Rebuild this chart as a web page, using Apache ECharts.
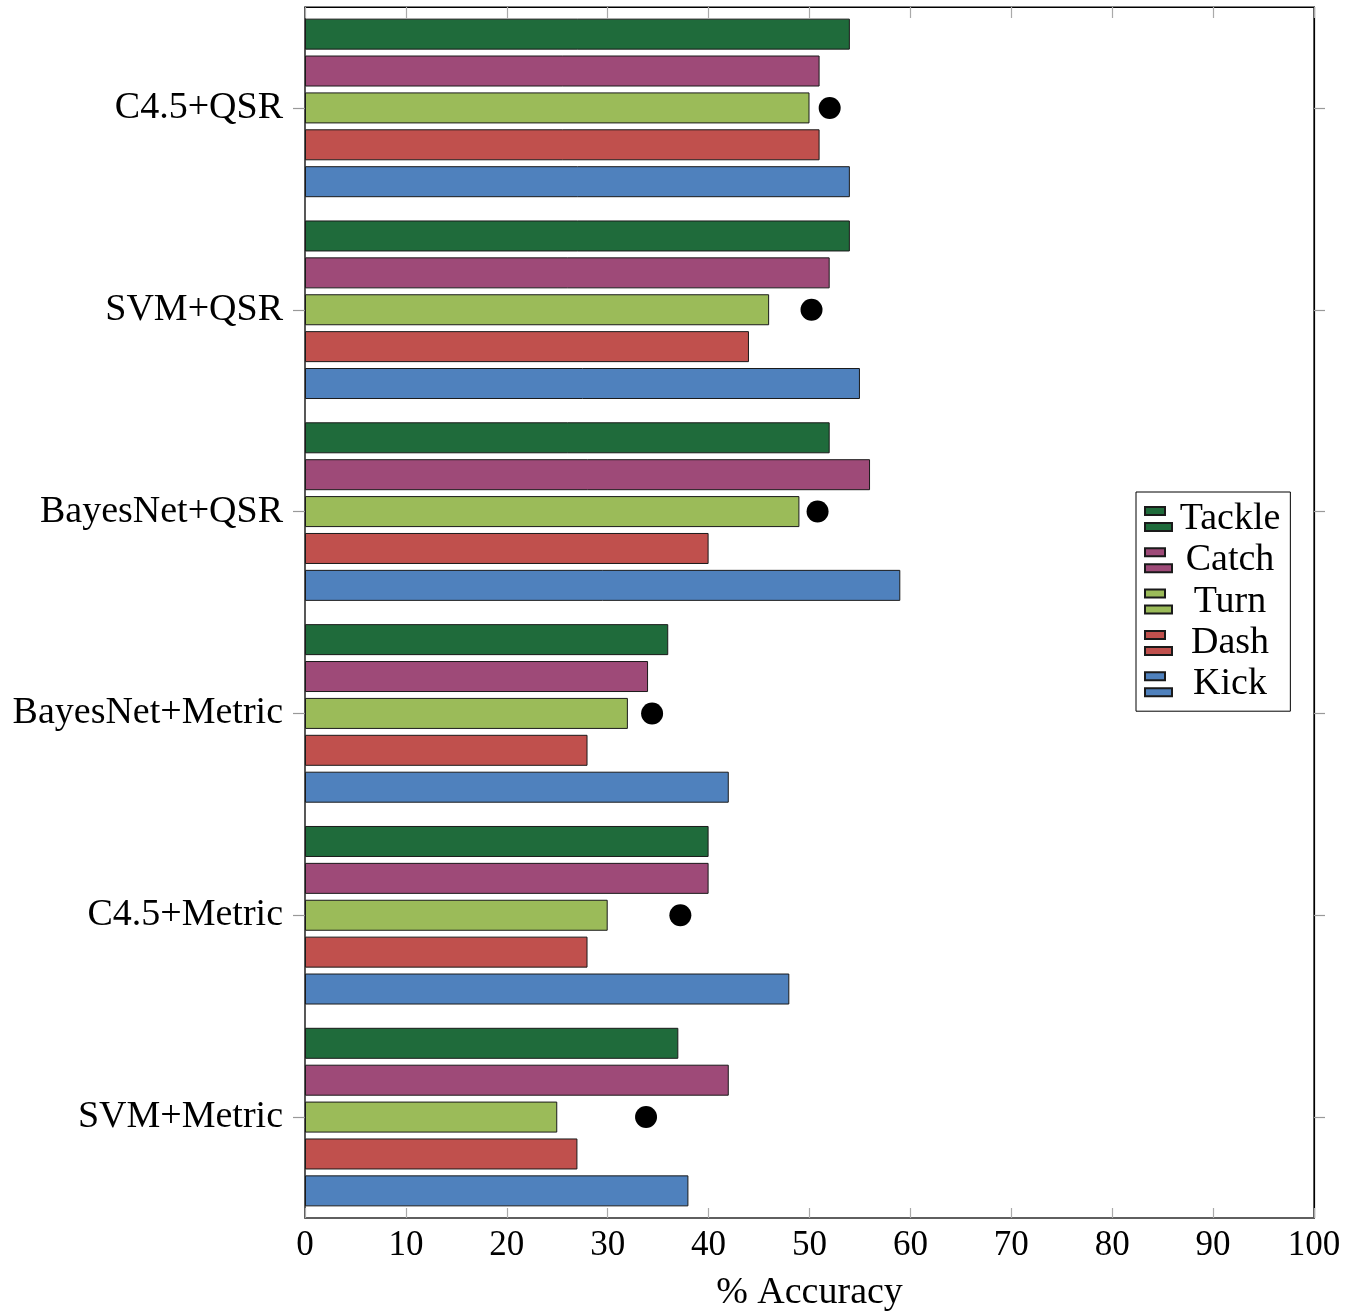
<!DOCTYPE html>
<html>
<head>
<meta charset="utf-8">
<title>% Accuracy by classifier and action</title>
<script src="https://cdn.jsdelivr.net/npm/echarts@6/dist/echarts.min.js"></script>
<style>
  html, body { margin: 0; padding: 0; background: #fff; }
  #chart { width: 1352px; height: 1314px; }
</style>
</head>
<body>
<div id="chart"></div>
<script>
// Classifier / feature-set combinations, listed top to bottom
const categories = ['C4.5+QSR', 'SVM+QSR', 'BayesNet+QSR', 'BayesNet+Metric', 'C4.5+Metric', 'SVM+Metric'];

// Per-action accuracy (%) for each combination
const tackle = [54, 54, 52, 36, 40, 37];
const catchVals = [51, 52, 56, 34, 40, 42];
const turn = [50, 46, 49, 32, 30, 25];
const dash = [51, 44, 40, 28, 28, 27];
const kick = [54, 55, 59, 42, 48, 38];

// Overall accuracy marker per combination
const overall = [52, 50.2, 50.8, 34.4, 37.2, 33.8];

// Axis ticks
const xTicks = [0, 10, 20, 30, 40, 50, 60, 70, 80, 90, 100];

const actionNames = ['Tackle', 'Catch', 'Turn', 'Dash', 'Kick'];
const actionValues = [tackle, catchVals, turn, dash, kick];
const actionColors = ['#1f6b3b', '#9e4a78', '#9bbb59', '#c0504d', '#4f81bd'];

const serif = '"Liberation Serif", "DejaVu Serif", serif';
const legendIcon = 'path://M0,0H20V8H0Z M0,16H27V24H0Z';

const barSeries = actionNames.map((name, i) => ({
  name: name,
  type: 'bar',
  xAxisIndex: 0,
  yAxisIndex: 0,
  data: actionValues[i],
  barWidth: 31,
  barGap: '19%',
  itemStyle: { color: actionColors[i], borderColor: '#1a1a1a', borderWidth: 1 },
  emphasis: { disabled: true }
}));

// Overall markers sit on the right-hand category axis (same categories)
const dotSeries = {
  name: 'Overall',
  type: 'scatter',
  xAxisIndex: 0,
  yAxisIndex: 1,
  symbol: 'circle',
  symbolSize: 22,
  data: overall.map((v, i) => [v, categories[i]]),
  itemStyle: { color: '#000', opacity: 1 },
  emphasis: { disabled: true },
  z: 5
};

const chart = echarts.init(document.getElementById('chart'), null, { renderer: 'canvas' });

chart.setOption({
  animation: false,
  backgroundColor: '#fff',
  grid: {
    left: 305, top: 7, width: 1009, height: 1211, containLabel: false,
    outerBoundsMode: 'none',
    show: true, borderColor: '#000', borderWidth: 1.2, backgroundColor: 'transparent'
  },
  legend: {
    data: actionNames,
    orient: 'vertical',
    left: 1136,
    top: 492,
    padding: [8, 10, 8, 8],
    itemGap: 3.3,
    itemWidth: 27,
    itemHeight: 24,
    itemTextGap: -8,
    icon: legendIcon,
    backgroundColor: '#fff',
    borderColor: '#000',
    borderWidth: 1,
    borderRadius: 0,
    selectedMode: false,
    formatter: name => '{t|' + name + '}',
    textStyle: {
      color: '#000',
      fontFamily: serif,
      fontSize: 38,
      rich: {
        t: { width: 106, align: 'center', fontSize: 38, fontFamily: serif, color: '#000' }
      }
    }
  },
  xAxis: [
    {
      type: 'value',
      position: 'bottom',
      min: xTicks[0],
      max: xTicks[xTicks.length - 1],
      interval: 10,
      name: '% Accuracy',
      nameLocation: 'middle',
      nameGap: 56,
      nameTextStyle: { color: '#000', fontFamily: serif, fontSize: 38 },
      axisLine: { show: true, onZero: false, lineStyle: { color: '#555', width: 1.5 } },
      axisTick: { show: true, inside: true, length: 10, lineStyle: { color: '#aaa', width: 1.2 } },
      axisLabel: { color: '#000', fontFamily: serif, fontSize: 35, margin: 10 },
      splitLine: { show: false }
    },
    {
      type: 'value',
      position: 'top',
      min: xTicks[0],
      max: xTicks[xTicks.length - 1],
      interval: 10,
      axisLine: { show: true, onZero: false, lineStyle: { color: '#000', width: 1.2 } },
      axisTick: { show: true, inside: true, length: 11, lineStyle: { color: '#aaa', width: 1.2 } },
      axisLabel: { show: false },
      splitLine: { show: false }
    }
  ],
  yAxis: [
    {
      type: 'category',
      position: 'left',
      inverse: true,
      data: categories,
      axisLine: { show: true, onZero: false, lineStyle: { color: '#555', width: 1.5 } },
      axisTick: { show: true, alignWithLabel: true, inside: false, length: 12, lineStyle: { color: '#999', width: 1.2 } },
      axisLabel: { color: '#000', fontFamily: serif, fontSize: 38, margin: 22 },
      splitLine: { show: false }
    },
    {
      type: 'category',
      position: 'right',
      inverse: true,
      data: categories,
      axisLine: { show: true, onZero: false, lineStyle: { color: '#000', width: 1.2 } },
      axisTick: { show: true, alignWithLabel: true, inside: false, length: 11, lineStyle: { color: '#999', width: 1.2 } },
      axisLabel: { show: false },
      splitLine: { show: false }
    }
  ],
  series: barSeries.concat([dotSeries])
});
</script>
</body>
</html>
